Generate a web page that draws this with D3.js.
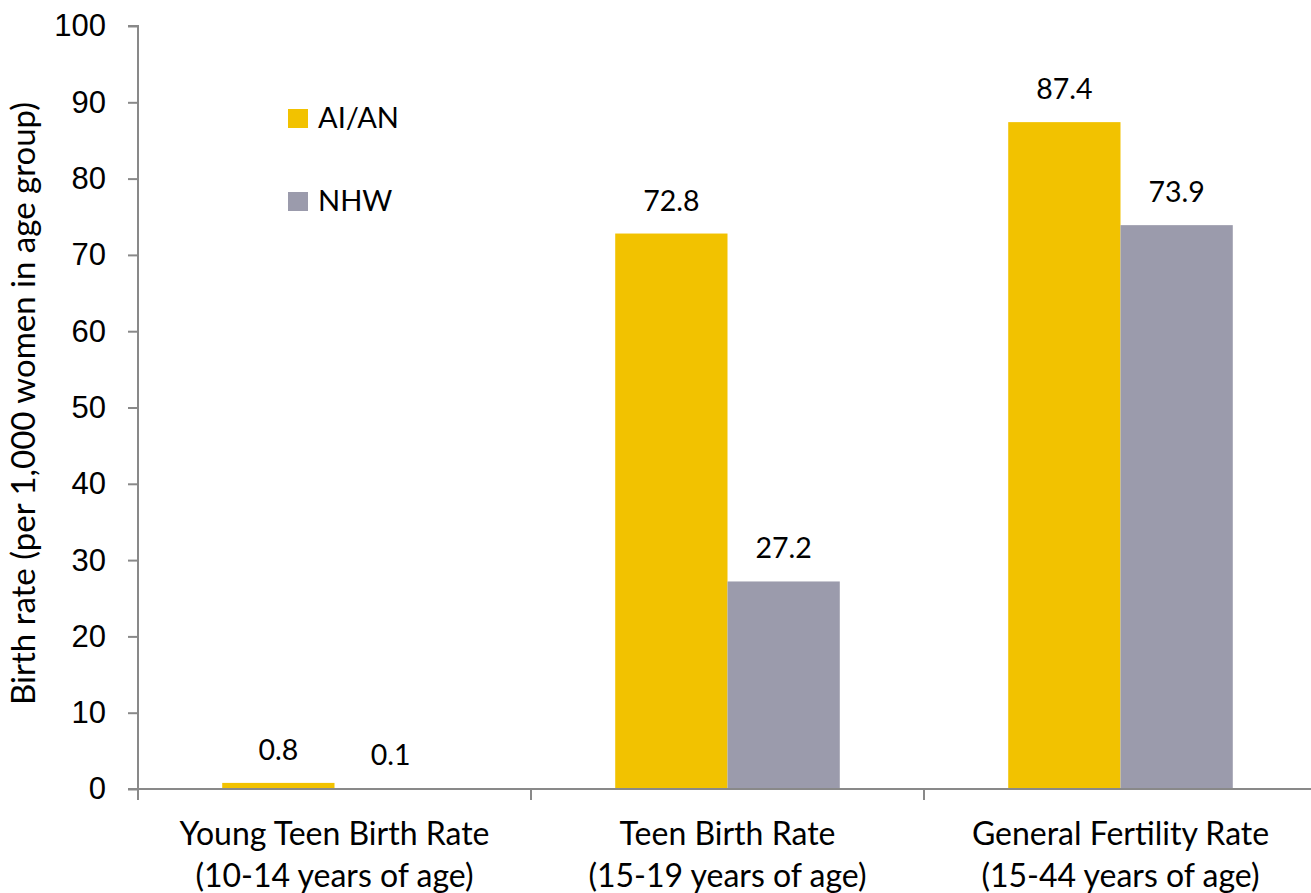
<!DOCTYPE html>
<html>
<head>
<meta charset="utf-8">
<script src="https://cdn.jsdelivr.net/npm/d3@7"></script>
<style>
  body { margin: 0; background: #fff; }
  svg { display: block; font-family: Lato, "Open Sans", sans-serif; }
</style>
</head>
<body>
<svg id="chart" width="1311" height="893"></svg>
<script>
// data
const categories = ["Young Teen Birth Rate|(10-14 years of age)", "Teen Birth Rate|(15-19 years of age)", "General Fertility Rate|(15-44 years of age)"];
const seriesNames = ["AI/AN", "NHW"];
const aianValues = [0.8, 72.8, 87.4];
const nhwValues = [0.1, 27.2, 73.9];
const yTicks = [0, 10, 20, 30, 40, 50, 60, 70, 80, 90, 100];

const COLORS = { "AI/AN": "#F2C200", "NHW": "#9B9BAC" };
const AXIS_COLOR = "#898989";

const MARGIN = { top: 26, left: 138, bottom: 104 };
const WIDTH = 1311, HEIGHT = 893;

const svg = d3.select("#chart");

const x0 = d3.scaleBand().domain(categories).range([MARGIN.left, MARGIN.left + 3 * 393]);
const x1 = d3.scaleBand().domain(seriesNames).range([0, x0.bandwidth()])
  .paddingInner(0).paddingOuter(0.75);
const y = d3.scaleLinear().domain([0, 100]).range([HEIGHT - MARGIN.bottom, MARGIN.top]);

const rows = categories.map((c, i) => ({
  key: c,
  values: [{ s: "AI/AN", v: aianValues[i] }, { s: "NHW", v: nhwValues[i] }]
}));

// y axis
const yAxis = svg.append("g")
  .attr("transform", `translate(${MARGIN.left},0)`)
  .call(d3.axisLeft(y).tickValues(yTicks).tickSize(10).tickPadding(22));
yAxis.select(".domain").attr("stroke", AXIS_COLOR).attr("stroke-width", 2)
  .attr("d", `M-10,${y(100)}H0V${y(0)}`);
yAxis.selectAll(".tick line").attr("stroke", AXIS_COLOR).attr("stroke-width", 2);
yAxis.selectAll(".tick text").attr("fill", "#000").style("font-size", "31px");

// bars
const groups = svg.append("g").selectAll("g")
  .data(rows).enter().append("g")
  .attr("transform", d => `translate(${x0(d.key)},0)`);

groups.selectAll("rect")
  .data(d => d.values).enter().append("rect")
  .attr("x", d => x1(d.s))
  .attr("y", d => y(d.v))
  .attr("width", x1.bandwidth())
  .attr("height", d => y(0) - y(d.v))
  .attr("fill", d => COLORS[d.s]);

groups.selectAll("text.val")
  .data(d => d.values).enter().append("text")
  .attr("class", "val")
  .attr("text-anchor", "middle")
  .attr("x", d => x1(d.s) + x1.bandwidth() / 2)
  .attr("y", d => y(d.v) - 23)
  .style("font-size", "28.5px")
  .text(d => d.v.toFixed(1));

// x axis
const xAxis = svg.append("g")
  .attr("transform", `translate(0,${y(0)})`);
xAxis.append("line")
  .attr("x1", MARGIN.left - 10).attr("x2", WIDTH)
  .attr("stroke", AXIS_COLOR).attr("stroke-width", 2);
xAxis.selectAll("line.tick")
  .data(categories.concat(["end"])).enter().append("line")
  .attr("class", "tick")
  .attr("x1", (d, i) => MARGIN.left + i * x0.step())
  .attr("x2", (d, i) => MARGIN.left + i * x0.step())
  .attr("y1", 0).attr("y2", 11)
  .attr("stroke", AXIS_COLOR).attr("stroke-width", 2);

xAxis.selectAll("text.cat")
  .data(categories).enter().append("text")
  .attr("class", "cat")
  .attr("text-anchor", "middle")
  .attr("transform", d => `translate(${x0(d) + x0.bandwidth() / 2},0)`)
  .style("font-size", "32px")
  .each(function(d) {
    const lines = d.split("|");
    d3.select(this).selectAll("tspan")
      .data(lines).enter().append("tspan")
      .attr("x", 0)
      .attr("y", (l, i) => 56 + i * 42)
      .text(l => l);
  });

// y label
svg.append("text")
  .attr("transform", `translate(35,${y(50) - 4}) rotate(-90)`)
  .attr("text-anchor", "middle")
  .style("font-size", "33px")
  .text("Birth rate (per 1,000 women in age group)");

// legend
const legend = svg.append("g").selectAll("g")
  .data(seriesNames).enter().append("g")
  .attr("transform", (d, i) => `translate(288,${109 + i * 83})`);
legend.append("rect")
  .attr("width", 20).attr("height", 19)
  .attr("fill", d => COLORS[d]);
legend.append("text")
  .attr("x", 30).attr("y", 19)
  .style("font-size", "29px")
  .text(d => d);
</script>
</body>
</html>
